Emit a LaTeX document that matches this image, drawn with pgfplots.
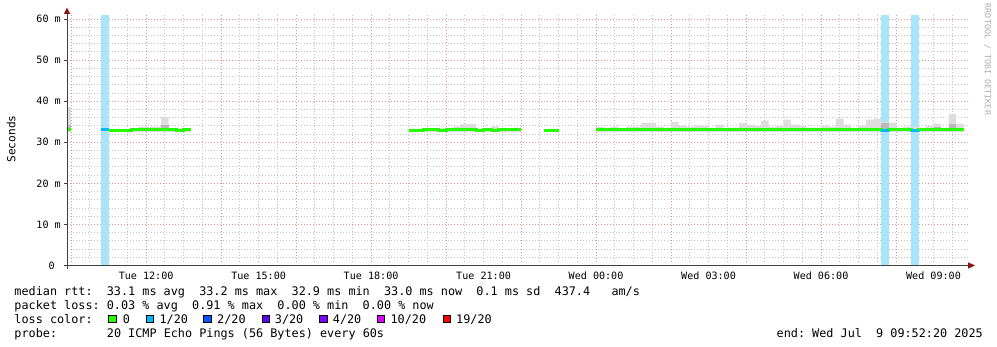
\documentclass[border=0pt]{standalone}
\usepackage{fontspec}
\setmainfont{DejaVu Sans}
\setmonofont{DejaVu Sans Mono}
\usepackage{pgfplots}
\pgfplotsset{compat=1.18}
\definecolor{smokel}{RGB}{221,221,221}
\definecolor{smoked}{RGB}{185,185,185}
\definecolor{lossbar}{RGB}{168,228,250}
\definecolor{l0}{RGB}{38,255,0}
\definecolor{l1}{RGB}{0,184,255}
\definecolor{l2}{RGB}{0,89,255}
\definecolor{l3}{RGB}{94,0,255}
\definecolor{l4}{RGB}{126,0,255}
\definecolor{l10}{RGB}{221,0,255}
\definecolor{l19}{RGB}{255,0,0}
\definecolor{gridmin}{RGB}{195,195,195}
\definecolor{gridmaj}{RGB}{225,150,150}
\definecolor{arrowred}{RGB}{140,20,20}
\definecolor{wm}{RGB}{175,175,175}
\newcommand\legfont{\ttfamily\fontsize{11.85pt}{14pt}\selectfont}
\newcommand\axfont{\ttfamily\fontsize{10.13pt}{12pt}\selectfont}
\begin{document}
\frenchspacing
\begin{tikzpicture}
\fill[white] (-67bp,-81.5bp) rectangle (930bp,265.5bp);
\path[use as bounding box] (-67bp,-81.5bp) rectangle (930bp,265.5bp);
\begin{axis}[
  at={(0,0)}, anchor=south west,
  scale only axis, width=901bp, height=250.5bp,
  xmin=9.89, xmax=33.92, ymin=0, ymax=61,
  axis line style={draw=none},
  major tick length=0pt, minor tick length=0pt,
  tick style={draw=none},
  xtick={12,15,...,33},
  xticklabels={Tue 12:00,Tue 15:00,Tue 18:00,Tue 21:00,Wed 00:00,Wed 03:00,Wed 06:00,Wed 09:00},
  minor xtick={10,10.5,...,33.5},
  extra x ticks={10,12,...,32},
  extra x tick style={grid=major, xticklabel=\empty},
  xmajorgrids=false, xminorgrids=true,
  ytick={0,10,...,60},
  yticklabels={0~~,10 m,20 m,30 m,40 m,50 m,60 m},
  minor ytick={2,4,...,58},
  ymajorgrids=true, yminorgrids=true,
  major grid style={draw=gridmaj, line width=1bp, dash pattern=on 1bp off 2bp},
  minor grid style={draw=gridmin, line width=1bp, dash pattern=on 1bp off 2bp},
  xticklabel style={font=\axfont, anchor=base, inner sep=0pt, yshift=-13.5bp},
  yticklabel style={font=\axfont, anchor=east, inner sep=0pt, xshift=-6bp},
]
% loss background bars
\addplot[fill=lossbar, draw=none] coordinates {(10.8,0) (10.8,61) (11.0,61) (11.0,0)};
\addplot[fill=lossbar, draw=none] coordinates {(31.6,0) (31.6,61) (31.8,61) (31.8,0)};
\addplot[fill=lossbar, draw=none] coordinates {(32.4,0) (32.4,61) (32.6,61) (32.6,0)};
% smoke (light)
\addplot[fill=smokel, draw=none] coordinates {(9.89,32.5) (9.89,38.65) (10.0,38.65) (10.0,32.5)};
\addplot[const plot, fill=smokel, draw=none] coordinates {
(10.8,32.45) (10.8,33.3) (11.0,33.3) (11.2,33.3) (11.4,33.3) (11.6,33.3) (11.8,33.8) (12.0,33.8)
(12.2,33.8) (12.4,36.05) (12.6,33.4) (12.8,33.4) (13.0,33.3) (13.2,33.3) (13.2,32.45)};
\addplot[const plot, fill=smokel, draw=none] coordinates {
(19.0,32.45) (19.0,33.3) (19.2,33.3) (19.4,33.3) (19.6,33.3) (19.8,33.55) (20.0,33.55) (20.2,33.9)
(20.4,34.5) (20.6,34.5) (20.8,33.3) (21.0,33.3) (21.2,33.9) (21.4,33.3) (21.6,33.3) (21.8,33.6)
(22.0,33.6) (22.0,32.45)};
\addplot[fill=smokel, draw=none] coordinates {(22.6,32.45) (22.6,33.3) (23.0,33.3) (23.0,32.45)};
\addplot[const plot, fill=smokel, draw=none] coordinates {
(24.0,32.45) (24.0,33.8) (24.2,33.55) (24.4,33.8) (24.6,33.4) (24.8,33.8) (25.0,33.8) (25.2,34.8)
(25.4,34.8) (25.6,33.8) (25.8,33.6) (26.0,35.0) (26.2,34.05) (26.4,33.8) (26.6,34.05) (26.8,34.05)
(27.0,33.55) (27.2,34.3) (27.4,33.55) (27.6,33.55) (27.8,34.8) (28.0,34.3) (28.2,34.05) (28.4,35.25)
(28.6,33.8) (28.8,34.05) (29.0,35.5) (29.2,34.3) (29.4,34.05) (29.6,33.55) (29.8,33.55) (30.0,34.05)
(30.2,33.8) (30.4,35.75) (30.6,34.3) (30.8,33.55) (31.0,34.05) (31.2,35.5) (31.4,35.75) (31.6,35.0)
(31.8,34.8) (32.0,33.55) (32.2,33.8) (32.4,33.8) (32.6,33.55) (32.8,34.05) (33.0,34.55) (33.2,33.55)
(33.4,36.9) (33.6,34.55) (33.8,34.55) (33.8,32.45)};
% smoke (dark)
\addplot[fill=smoked, draw=none] coordinates {(9.89,33.0) (9.89,34.2) (10.0,34.2) (10.0,33.0)};
\addplot[fill=smoked, draw=none] coordinates {(12.4,33.2) (12.4,34.2) (12.6,34.2) (12.6,33.2)};
\addplot[fill=smoked, draw=none] coordinates {(19.0,32.45) (19.0,32.75) (19.4,32.75) (19.4,32.45)};
\addplot[fill=smoked, draw=none] coordinates {(21.2,32.45) (21.2,32.75) (21.4,32.75) (21.4,32.45)};
\addplot[fill=smoked, draw=none] coordinates {(31.6,33.3) (31.6,34.6) (31.8,34.6) (31.8,33.3)};
\addplot[fill=smoked, draw=none] coordinates {(33.0,33.3) (33.0,33.8) (33.2,33.8) (33.2,33.3)};
\addplot[fill=smoked, draw=none] coordinates {(33.4,33.3) (33.4,34.5) (33.6,34.5) (33.6,33.3)};
% median rtt (0 loss)
\addplot[const plot, draw=l0, line width=3bp] coordinates {(9.89,33.05) (10.0,33.05)};
\addplot[const plot, draw=l0, line width=3bp] coordinates {
(11.0,32.9) (11.2,32.9) (11.4,32.95) (11.6,33.0) (11.8,33.0) (12.0,33.0) (12.2,33.1) (12.4,33.1)
(12.6,33.1) (12.8,32.95) (13.0,33.1) (13.2,33.1)};
\addplot[const plot, draw=l0, line width=3bp] coordinates {
(19.0,32.95) (19.2,32.95) (19.4,33.0) (19.6,33.0) (19.8,32.95) (20.0,33.0) (20.2,33.0) (20.4,33.15)
(20.6,33.15) (20.8,32.95) (21.0,33.0) (21.2,32.95) (21.4,33.0) (21.6,33.0) (21.8,33.0) (22.0,33.0)};
\addplot[const plot, draw=l0, line width=3bp] coordinates {(22.6,32.95) (22.8,32.95) (23.0,32.95)};
\addplot[const plot, draw=l0, line width=3bp] coordinates {
(24.0,33.0) (24.2,33.0) (24.4,33.05) (24.6,33.1) (24.8,33.05) (25.0,33.05) (25.2,33.1) (25.4,33.1)
(25.6,33.05) (25.8,33.1) (26.0,33.15) (26.2,33.05) (26.4,33.0) (26.6,33.05) (26.8,33.1) (27.0,33.1)
(27.2,33.1) (27.4,33.05) (27.6,33.05) (27.8,33.15) (28.0,33.15) (28.2,33.1) (28.4,33.2) (28.6,33.15)
(28.8,33.1) (29.0,33.2) (29.2,33.15) (29.4,33.15) (29.6,33.1) (29.8,33.1) (30.0,33.05) (30.2,33.1)
(30.4,33.15) (30.6,33.1) (30.8,33.05) (31.0,33.05) (31.2,33.0) (31.4,33.0) (31.6,32.95) (31.8,33.0)
(32.0,33.0) (32.2,33.0) (32.4,32.95) (32.6,33.0) (32.8,33.0) (33.0,33.05) (33.2,33.0) (33.4,33.1)
(33.6,33.05) (33.8,33.05)};
% median rtt (1/20 loss)
\addplot[const plot, draw=l1, line width=3bp] coordinates {(10.8,33.0) (11.0,33.0)};
\addplot[const plot, draw=l1, line width=3bp] coordinates {(31.6,32.95) (31.8,32.95)};
\addplot[const plot, draw=l1, line width=3bp] coordinates {(32.4,32.95) (32.6,32.95)};
\end{axis}
% axis lines and arrows
\draw[black!75, line width=1bp] (-3bp,0) -- (902bp,0);
\draw[black!75, line width=1bp] (0,-3bp) -- (0,252.5bp);
\fill[arrowred] (901bp,-3.2bp) -- (908bp,0) -- (901bp,3.2bp) -- cycle;
\fill[arrowred] (-3.2bp,251.5bp) -- (0,258bp) -- (3.2bp,251.5bp) -- cycle;
\foreach \v in {0,...,6} \draw[black!75, line width=1bp] (-3bp,\v*41.066bp) -- (0,\v*41.066bp);
% unit label and watermark
\node[rotate=90, anchor=base, inner sep=0pt, font=\ttfamily\fontsize{11.24pt}{13pt}\selectfont] at (-51.5bp,126.5bp) {Seconds};
\node[rotate=-90, anchor=center, inner sep=0pt, text=wm, font=\ttfamily\fontsize{8.43pt}{10pt}\selectfont] at (920.5bp,206bp) {RRDTOOL / TOBI OETIKER};
% legend rows
\node[anchor=base west, inner sep=0pt, font=\legfont] at (-52.7bp,-29.5bp) {median rtt:~~33.1 ms avg~~33.2 ms max~~32.9 ms min~~33.0 ms now~~0.1 ms sd~~437.4~~~am/s};
\node[anchor=base west, inner sep=0pt, font=\legfont] at (-52.7bp,-43.8bp) {packet loss: 0.03 \% avg~~0.91 \% max~~0.00 \% min~~0.00 \% now};
\node[anchor=base west, inner sep=0pt, font=\legfont] at (-52.7bp,-57.8bp) {loss color:};
\node[anchor=base west, inner sep=0pt, font=\legfont] at (-52.7bp,-71.8bp) {probe:~~~~~~~20 ICMP Echo Pings (56 Bytes) every 60s};
\node[anchor=base west, inner sep=0pt, font=\legfont] at (709.5bp,-71.8bp) {end: Wed Jul~~9 09:52:20 2025};
% loss colour swatches
\draw[line width=1bp, fill=l0]  (41.8bp,-57.3bp) rectangle ++(7.3bp,7.3bp);
\draw[line width=1bp, fill=l1]  (79.2bp,-57.3bp) rectangle ++(7.3bp,7.3bp);
\draw[line width=1bp, fill=l2]  (136.8bp,-57.3bp) rectangle ++(7.3bp,7.3bp);
\draw[line width=1bp, fill=l3]  (195.2bp,-57.3bp) rectangle ++(7.3bp,7.3bp);
\draw[line width=1bp, fill=l4]  (252.8bp,-57.3bp) rectangle ++(7.3bp,7.3bp);
\draw[line width=1bp, fill=l10] (310.2bp,-57.3bp) rectangle ++(7.3bp,7.3bp);
\draw[line width=1bp, fill=l19] (376.2bp,-57.3bp) rectangle ++(7.3bp,7.3bp);
\node[anchor=base west, inner sep=0pt, font=\legfont] at (55.7bp,-57.8bp) {0};
\node[anchor=base west, inner sep=0pt, font=\legfont] at (92.4bp,-57.8bp) {1/20};
\node[anchor=base west, inner sep=0pt, font=\legfont] at (150.0bp,-57.8bp) {2/20};
\node[anchor=base west, inner sep=0pt, font=\legfont] at (207.7bp,-57.8bp) {3/20};
\node[anchor=base west, inner sep=0pt, font=\legfont] at (265.7bp,-57.8bp) {4/20};
\node[anchor=base west, inner sep=0pt, font=\legfont] at (323.4bp,-57.8bp) {10/20};
\node[anchor=base west, inner sep=0pt, font=\legfont] at (389.0bp,-57.8bp) {19/20};
\end{tikzpicture}
\end{document}
